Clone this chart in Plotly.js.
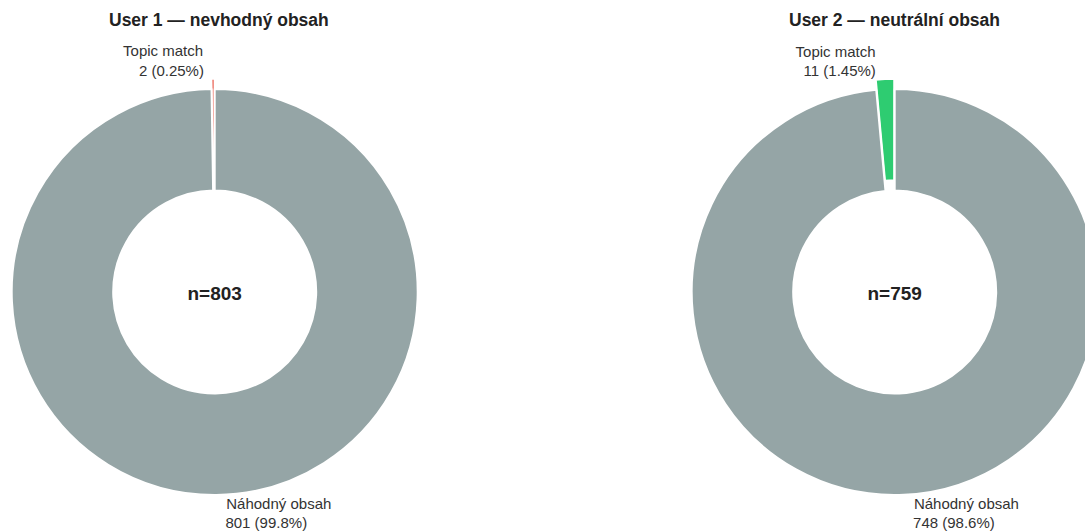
<!DOCTYPE html>
<html>
<head>
<meta charset="utf-8">
<script src="https://cdn.plot.ly/plotly-3.0.1.min.js"></script>
<style>
html, body { margin: 0; padding: 0; overflow: hidden; background: #fff; }
#chart { width: 1110px; height: 532px; }
</style>
</head>
<body>
<div id="chart"></div>
<script>
// ---- data ----
var categories = ["Topic match", "Náhodný obsah"];
var user1Values = [2, 801];
var user2Values = [11, 748];
var user1Pct = ["0.25%", "99.8%"];
var user2Pct = ["1.45%", "98.6%"];
var panelTitles = ["User 1 — nevhodný obsah", "User 2 — neutrální obsah"];
var user1Colors = ["#e74c3c", "#95a5a6"];
var user2Colors = ["#2ecc71", "#95a5a6"];
var pullValues = [0.05, 0];

// ---- layout constants ----
var W = 1110, H = 532;
var domLeft = [0.0014, 0.38545];
var domRight = [0.61401, 0.99806];
var domY = [0.0505, 0.8518];
var FONT = "Liberation Sans, Arial, Helvetica, sans-serif";

function sum(a) { return a.reduce(function (s, v) { return s + v; }, 0); }
function pad(n) { return new Array(n + 1).join("\u00a0"); }

// padding (non-breaking spaces) emulates right / left line alignment
function makePie(values, pct, colors, domX, padTop, padBottom) {
  // first slice starts at 12 o'clock and runs counterclockwise (to the left)
  var rot = -360 * values[0] / sum(values);
  return {
    type: "pie",
    labels: categories,
    values: values,
    customdata: pct,
    texttemplate: [
      "%{label}<br>" + pad(padTop) + "%{value} (%{customdata})",
      "%{label}<br>%{value} (%{customdata})" + pad(padBottom)
    ],
    textposition: "outside",
    outsidetextfont: { family: FONT, size: 15, color: "#333333" },
    hole: 0.5,
    sort: false,
    direction: "counterclockwise",
    rotation: rot,
    pull: pullValues,
    marker: { colors: colors, line: { color: "#ffffff", width: 2 } },
    domain: { x: domX, y: domY },
    title: {
      text: "<b>n=" + sum(values) + "</b>",
      position: "middle center",
      font: { family: FONT, size: 19, color: "#222222" }
    },
    hoverinfo: "label+value",
    showlegend: false,
    automargin: false
  };
}

var data = [
  makePie(user1Values, user1Pct, user1Colors, domLeft, 4, 6),
  makePie(user2Values, user2Pct, user2Colors, domRight, 2, 6)
];

var layout = {
  width: W,
  height: H,
  margin: { l: 0, r: 0, t: 0, b: 0 },
  paper_bgcolor: "#ffffff",
  showlegend: false,
  annotations: [
    {
      text: "<b>" + panelTitles[0] + "</b>",
      xref: "paper", yref: "paper",
      x: (domLeft[0] + domLeft[1]) / 2 + 4 / W, y: 1 - 20 / H,
      xanchor: "center", yanchor: "middle",
      showarrow: false,
      font: { family: FONT, size: 17.5, color: "#222222" }
    },
    {
      text: "<b>" + panelTitles[1] + "</b>",
      xref: "paper", yref: "paper",
      x: (domRight[0] + domRight[1]) / 2, y: 1 - 20 / H,
      xanchor: "center", yanchor: "middle",
      showarrow: false,
      font: { family: FONT, size: 17.5, color: "#222222" }
    }
  ]
};

Plotly.newPlot("chart", data, layout, { displayModeBar: false, staticPlot: true });
</script>
</body>
</html>
